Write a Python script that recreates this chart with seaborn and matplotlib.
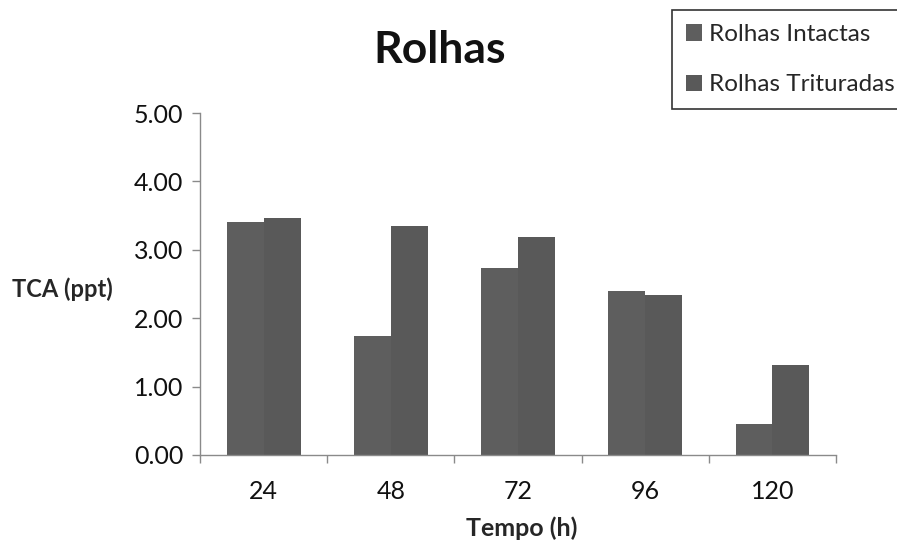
import matplotlib
matplotlib.use("Agg")
import matplotlib.pyplot as plt
import seaborn as sns
import pandas as pd
import numpy as np
from matplotlib.patches import Patch

tempos = ["24", "48", "72", "96", "120"]
intactas = [3.41, 1.74, 2.73, 2.40, 0.45]
trituradas = [3.46, 3.35, 3.19, 2.34, 1.32]
series_names = ["Rolhas Intactas", "Rolhas Trituradas"]
yticks = [0.0, 1.0, 2.0, 3.0, 4.0, 5.0]

df = pd.DataFrame({
    "Tempo": tempos * 2,
    "TCA": intactas + trituradas,
    "Serie": [series_names[0]] * len(tempos) + [series_names[1]] * len(tempos),
})

sns.set_theme(style="white")
plt.rcParams["font.family"] = ["Lato", "DejaVu Sans"]

fig = plt.figure(figsize=(8.97, 5.41), dpi=100)
ax = fig.add_axes([0.223, 0.159, 0.709, 0.632])

palette = {series_names[0]: "#5e5e5e", series_names[1]: "#595959"}
sns.barplot(data=df, x="Tempo", y="TCA", hue="Serie", order=tempos,
            hue_order=series_names, palette=palette, width=0.58,
            saturation=1, ax=ax, legend=False, linewidth=0)

ax.set_ylim(0, 5)
ax.set_xlim(-0.5, len(tempos) - 0.5)
ax.set_yticks(yticks)
ax.set_yticklabels([f"{v:.2f}" for v in yticks], fontsize=18, color="#111111")
ax.set_xticklabels(tempos, fontsize=18, color="#111111")

axis_color = "#8a8a8a"
for side in ["top", "right"]:
    ax.spines[side].set_visible(False)
for side in ["left", "bottom"]:
    ax.spines[side].set_color(axis_color)
    ax.spines[side].set_linewidth(1)

ax.tick_params(axis="y", which="major", length=6, width=1, color=axis_color,
               direction="out", left=True, pad=6)
ax.tick_params(axis="x", which="major", length=0, pad=18)
ax.set_xticks(np.arange(-0.5, len(tempos)), minor=True)
ax.tick_params(axis="x", which="minor", length=6, width=1, color=axis_color,
               direction="out", bottom=True)

ax.set_xlabel("Tempo (h)", fontsize=18, fontweight="bold", va="center")
ax.xaxis.set_label_coords(0.505, -0.214)
ax.set_ylabel("TCA (ppt)", fontsize=17, fontweight="bold", rotation=0,
              ha="left", va="center")
ax.yaxis.set_label_coords(-0.296, 0.485)

fig.text(0.49, 0.908, "Rolhas", fontsize=32, fontweight="bold",
         ha="center", va="center", color="#111111")

handles = [Patch(facecolor=palette[n], edgecolor="none") for n in series_names]
leg = fig.legend(handles, series_names, loc="upper left",
                 bbox_to_anchor=(0.749, 0.9815), fontsize=17.5, frameon=True,
                 fancybox=False, edgecolor="black", handlelength=0.65,
                 handleheight=0.65, handletextpad=0.3, borderpad=0.58,
                 labelspacing=1.2, borderaxespad=0)
leg.get_frame().set_linewidth(1.2)

fig.savefig("out.png", dpi=100, facecolor="white")
